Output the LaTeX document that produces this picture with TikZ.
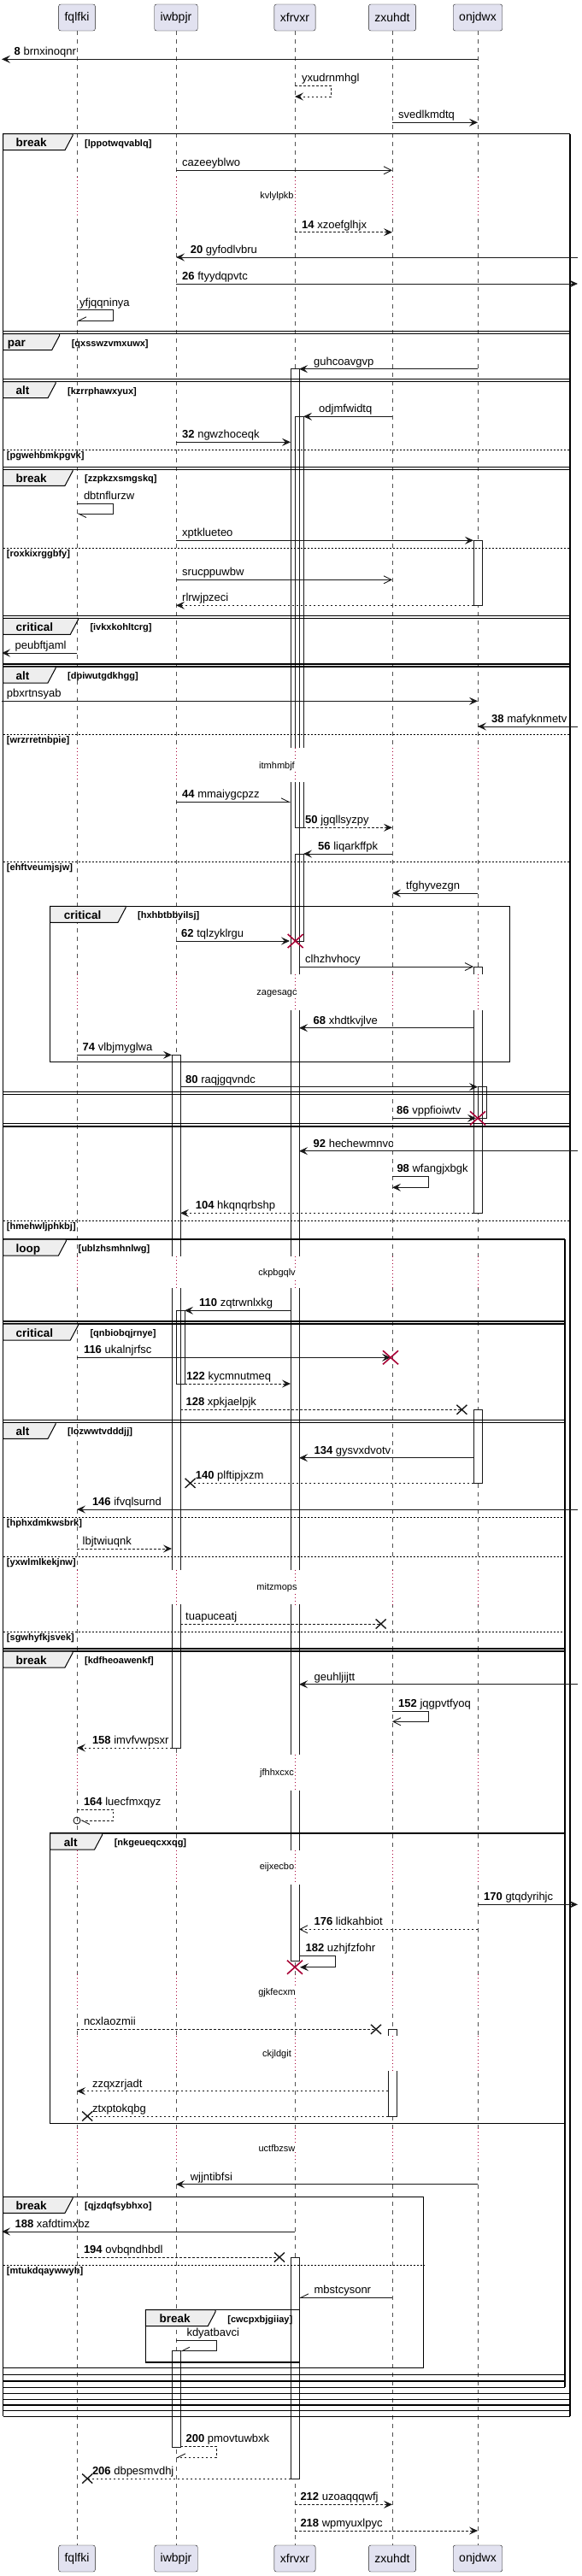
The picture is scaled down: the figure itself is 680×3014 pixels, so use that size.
\documentclass[tikz,border=0pt]{standalone}
\usepackage{fontspec}
\setmainfont{Liberation Sans}
\usetikzlibrary{arrows.meta}
\definecolor{seqline}{HTML}{181818}
\definecolor{seqpart}{HTML}{E2E2F0}
\definecolor{seqtabfill}{HTML}{EEEEEE}
\definecolor{seqred}{HTML}{A80036}
% lifeline positions
\def\xfq{90}\def\xiw{206}\def\xxf{345}\def\xzx{459}\def\xon{559}
\newcounter{sqn}
\tikzset{
  seqpart/.style={draw=seqline, fill=seqpart, rounded corners=2.5pt, minimum height=31pt, inner xsep=7pt, font=\fontsize{14}{16}\selectfont},
  seqlife/.style={draw=seqline!75, line width=0.5pt, dash pattern=on 5pt off 5pt},
  seqmsg/.style={draw=seqline, line width=0.9pt},
  seqret/.style={dash pattern=on 2.5pt off 2.5pt},
  seqfull/.style={-{Stealth[length=10pt,width=9pt,inset=4pt]}},
  seqopen/.style={-{Straight Barb[length=9pt,width=9pt]}},
  seqhalfl/.style={-{Straight Barb[length=9pt,width=9pt,left]}},
  seqhalfr/.style={-{Straight Barb[length=9pt,width=9pt,right]}},
  seqlbl/.style={anchor=base west, inner sep=0pt, font=\fontsize{13}{15}\selectfont},
  seqbar/.style={draw=seqline, line width=0.9pt},
  seqdelay/.style={draw=seqred, line width=0.9pt, dash pattern=on 1pt off 3pt},
  seqdelaytxt/.style={fill=white, inner sep=1pt, font=\fontsize{11}{13}\selectfont},
  seqgrp/.style={draw=black, line width=1.5pt},
  seqgrpend/.style={draw=black, line width=1.1pt},
  seqtabs/.style={draw=black, line width=1pt, fill=seqtabfill},
  seqkind/.style={anchor=base west, inner sep=0pt, font=\bfseries\fontsize{13.5}{15}\selectfont},
  seqguard/.style={anchor=base west, inner sep=0pt, font=\bfseries\fontsize{11}{13}\selectfont},
  seqelse/.style={draw=black, line width=0.9pt, dash pattern=on 2pt off 2pt},
  seqlost/.style={draw=seqline, line width=1.4pt},
  seqkill/.style={draw=seqred, line width=1.6pt},
}
\newcommand\sqmsg[6][]{\stepcounter{sqn}%
  \draw[seqmsg,#1] (#2,#4) -- (#3,#4);
  \node[seqlbl] (m\arabic{sqn}) at (#5,{#4-4.5}) {#6};}
\newcommand\sqself[8][]{\stepcounter{sqn}%
  \draw[seqmsg,#1] (#2,#3) -- (#4,#3) -- (#4,#5) -- (#6,#5);
  \node[seqlbl] (m\arabic{sqn}) at (#7,{#3-4.5}) {#8};}
\newcommand\lostx[2]{\draw[seqlost] ({#1-6},{#2-5.5}) -- ({#1+6},{#2+5.5}) ({#1-6},{#2+5.5}) -- ({#1+6},{#2-5.5});}
\newcommand\killx[2]{\draw[seqkill] ({#1-9},{#2-8}) -- ({#1+9},{#2+8}) ({#1-9},{#2+8}) -- ({#1+9},{#2-8});}
\newcommand\sqtab[6][15]{\stepcounter{sqn}%
  \draw[seqtabs] (#2,#3) -- (#4,#3) -- (#4,{#3+2}) -- ({#4-9},{#3+19}) -- (#2,{#3+19}) -- cycle;
  \node[seqkind] (k\arabic{sqn}) at ({#2+#1},{#3+15}) {#5};
  \node[seqguard] (g\arabic{sqn}) at ({#4+14},{#3+14.5}) {#6};}
\newcommand\sqelse[3]{\stepcounter{sqn}%
  \draw[seqelse] (3.5,#1) -- (#2,#1);
  \node[seqguard] (e\arabic{sqn}) at (7.8,{#1+10.5}) {#3};}
\def\barlist{340/350/431.7/2294, 345/355/487.3/968.3, 345/355/999/1101, 340/350/2641/2900,
  201/211/1234.3/2045, 206/216/1533.3/1619, 201/211/2750.7/2863.3,
  554/564/632.3/708.3, 554/564/1131/1419.3, 559/569/1271.7/1308.3, 554/564/1649.3/1735.3,
  454/464/2374.3/2476}
\begin{document}
\begin{tikzpicture}[x=1pt,y=-1pt]
\useasboundingbox (0,0) rectangle (680,3014);
% participants and lifelines
\foreach \n/\x/\t in {fq/\xfq/fqlfki,iw/\xiw/iwbpjr,xf/\xxf/xfrvxr,zx/\xzx/zxuhdt,on/\xon/onjdwx}{
  \node[seqpart] (\n top) at (\x,20.5) {\t};
  \node[seqpart] (\n bot) at (\x,2993.5) {\t};
  \draw[seqlife] (\n top) -- (\n bot);
}
% activations
\foreach \a/\b/\c/\d in \barlist \fill[white] (\a,\c) rectangle (\b,\d);
\foreach \a/\b/\c/\d in \barlist \draw[seqbar] (\a,\c) rectangle (\b,\d);
% delays
\foreach \ya/\yb/\yt/\t in {207/252/230/kvlylpkb, 875/915/896.7/itmhmbjf, 1140/1181.7/1162.3/zagesagc,
  1470/1507/1490/ckpbgqlv, 1836.7/1877.3/1857.7/mitzmops, 2053.3/2095/2075/jfhhxcxc,
  2165/2205/2185/eijxecbo, 2310/2350/2331.7/gjkfecxm, 2381.7/2423.3/2404/ckjldgit,
  2490/2530/2513.3/uctfbzsw}{
  \foreach \x in {\xfq,\xiw,\xxf,\xzx,\xon}{
    \fill[white] ({\x-13},\ya) rectangle ({\x+13},\yb);
    \draw[seqdelay] (\x,\ya) -- (\x,\yb);
  }
  \node[seqdelaytxt] (d\t) at (324,\yt) {\t};
}
% outer frames
\draw[seqgrp] (3.5,156.7) -- (3.5,2827.3) (667,156.7) -- (667,2827.3) (661,1450) -- (661,2793.3);
\foreach \y in {156.7,390.7,446.7,549.3,723.3,780,1280.7,1318,2800.7,2807.3,2814,2820.7,2827.3}
  \draw[seqgrp] (3.5,\y) -- (667,\y);
\foreach \y in {387.7,443.7,546.3,720.3,777,1277.2,1314.5}
  \draw[seqgrpend] (3.5,\y) -- (667,\y);
\foreach \y in {1450,1549,1664.3,1932,2778.3,2786,2793.3}
  \draw[seqgrp] (3.5,\y) -- (661,\y);
\foreach \y in {1546,1661.3,1929}
  \draw[seqgrpend] (3.5,\y) -- (661,\y);
\sqtab{3.5}{156.7}{85}{break}{[lppotwqvablq]}
\sqtab[5.2]{3.5}{390.7}{69.6}{par}{[qxsswzvmxuwx]}
\sqtab{3.5}{446.7}{65}{alt}{[kzrrphawxyux]}
\sqelse{526}{667}{[pgwehbmkpgvk]}
\sqtab{3.5}{549.3}{85}{break}{[zzpkzxsmgskq]}
\sqelse{641}{667}{[roxkixrggbfy]}
\sqtab{3.5}{723.3}{91.3}{critical}{[ivkxkohltcrg]}
\sqtab{3.5}{780}{65}{alt}{[dpiwutgdkhgg]}
\sqelse{859}{667}{[wrzrretnbpie]}
\sqelse{1008.3}{667}{[ehftveumjsjw]}
\sqelse{1428.3}{667}{[hmehwljphkbj]}
\sqtab{3.5}{1450}{77.4}{loop}{[ublzhsmhnlwg]}
\sqtab{3.5}{1549}{91.3}{critical}{[qnbiobqjrnye]}
\sqtab{3.5}{1664.3}{65}{alt}{[lozwwtvdddjj]}
\sqelse{1775}{661}{[hphxdmkwsbrk]}
\sqelse{1821}{661}{[yxwlmlkekjnw]}
\sqelse{1909.3}{661}{[sgwhyfkjsvek]}
\sqtab{3.5}{1932}{85}{break}{[kdfheoawenkf]}
% inner frames
\draw[seqgrp] (58.7,1060.3) rectangle (596.5,1242.3);
\sqtab[16]{58.7}{1060.3}{147}{critical}{[hxhbtbbyilsj]}
\draw[seqgrp] (58.7,2145) rectangle (661,2484.3);
\sqtab[16]{58.7}{2145}{119.6}{alt}{[nkgeueqcxxqg]}
\draw[seqgrp] (3.5,2570.3) rectangle (495.7,2770.7);
\sqtab{3.5}{2570.3}{85}{break}{[qjzdqfsybhxo]}
\sqelse{2650}{495.7}{[mtukdqaywwyh]}
\draw[seqgrp] (170.4,2702.7) rectangle (350.4,2764);
\sqtab[16]{170.4}{2702.7}{252.2}{break}{[cwcpxbjgiiay]}
% messages
\sqmsg[seqfull]{\xon}{2}{69.3}{16.5}{\textbf{8} brnxinoqnr}
\sqself[seqret,seqfull]{\xxf}{100}{387}{113}{\xxf}{353}{yxudrnmhgl}
\sqmsg[seqfull]{\xzx}{\xon}{143.3}{466}{svedlkmdtq}
\sqmsg[seqopen]{\xiw}{\xzx}{199.3}{213}{cazeeyblwo}
\sqmsg[seqret,seqfull]{\xxf}{\xzx}{271.7}{353}{\textbf{14} xzoefglhjx}
\sqmsg[seqfull]{676}{\xiw}{301}{222.6}{\textbf{20} gyfodlvbru}
\sqmsg[seqfull]{\xiw}{676}{332}{213}{\textbf{26} ftyydqpvtc}
\sqself[seqhalfr]{\xfq}{362.7}{132.6}{375.3}{\xfq}{93}{yfjqqninya}
\sqmsg[seqfull]{\xon}{350}{431.7}{367}{guhcoavgvp}
\sqmsg[seqfull]{\xzx}{355}{487.3}{373}{odjmfwidtq}
\sqmsg[seqfull]{\xiw}{340}{517.3}{213}{\textbf{32} ngwzhoceqk}
\sqself[seqhalfl]{\xfq}{589}{132.6}{601}{\xfq}{97.8}{dbtnflurzw}
\sqmsg[seqfull]{\xiw}{554}{632.3}{213}{xptklueteo}
\sqmsg[seqopen]{\xiw}{\xzx}{678.3}{213}{srucppuwbw}
\sqmsg[seqret,seqfull]{554}{\xiw}{708.3}{213}{rlrwjpzeci}
\sqmsg[seqfull]{\xfq}{2}{764}{17.4}{peubftjaml}
\sqmsg[seqfull]{2}{\xon}{820.3}{7.8}{pbxrtnsyab}
\sqmsg[seqfull]{676}{\xon}{850}{575}{\textbf{38} mafyknmetv}
\sqmsg[seqhalfl]{\xiw}{340}{938.3}{213}{\textbf{44} mmaiygcpzz}
\sqmsg[seqret,seqfull]{355}{\xzx}{968.3}{357}{\textbf{50} jgqllsyzpy}
\sqmsg[seqfull]{\xzx}{355}{999}{372}{\textbf{56} liqarkffpk}
\sqmsg[seqfull]{\xon}{\xzx}{1045}{475}{tfghyvezgn}
\sqmsg[seqfull]{\xiw}{339}{1101}{212}{\textbf{62} tqlzyklrgu}
\sqmsg[seqopen]{350}{554}{1131}{357}{clhzhvhocy}
\sqmsg[seqfull]{554}{350}{1202.7}{366.5}{\textbf{68} xhdtkvjlve}
\sqmsg[seqfull]{\xfq}{201}{1234.3}{96.5}{\textbf{74} vlbjmyglwa}
\sqmsg[seqfull]{211}{559}{1271.7}{217}{\textbf{80} raqjgqvndc}
\sqmsg[seqfull]{\xzx}{557}{1308.3}{464}{\textbf{86} vppfioiwtv}
\sqmsg[seqfull]{676}{350}{1346.7}{366.5}{\textbf{92} hechewmnvc}
\sqself[seqfull]{\xzx}{1376}{501}{1389.3}{\xzx}{464.3}{\textbf{98} wfangjxbgk}
\sqmsg[seqret,seqfull]{554}{211}{1419.3}{228.7}{\textbf{104} hkqnqrbshp}
\sqmsg[seqfull]{340}{216}{1533.3}{233}{\textbf{110} zqtrwnlxkg}
\sqmsg[seqfull]{\xfq}{457}{1588.3}{97.8}{\textbf{116} ukalnjrfsc}
\sqmsg[seqret,seqfull]{216}{340}{1619}{218}{\textbf{122} kycmnutmeq}
\sqmsg[seqret]{211}{540.4}{1649.3}{217.4}{\textbf{128} xpkjaelpjk}
\lostx{540.4}{1649.3}
\sqmsg[seqfull]{554}{350}{1705.7}{367.4}{\textbf{134} gysvxdvotv}
\sqmsg[seqret]{554}{222.6}{1735.3}{228.7}{\textbf{140} plftipjxzm}
\lostx{222.6}{1735.3}
\sqmsg[seqfull]{676}{\xfq}{1766}{107.8}{\textbf{146} ifvqlsurnd}
\sqmsg[seqret,seqfull]{\xfq}{201}{1812}{96.5}{lbjtwiuqnk}
\sqmsg[seqret]{211}{445.7}{1900}{217}{tuapuceatj}
\lostx{445.7}{1900}
\sqmsg[seqfull]{676}{350}{1970.7}{367.4}{geuhljijtt}
\sqself[seqopen]{\xzx}{2002.3}{501}{2014.3}{\xzx}{466}{\textbf{152} jqgpvtfyoq}
\sqmsg[seqret,seqfull]{201}{\xfq}{2045}{107.8}{\textbf{158} imvfvwpsxr}
\sqself[seqret,seqhalfl]{\xfq}{2117.3}{132.6}{2130}{94}{97.8}{\textbf{164} luecfmxqyz}
\draw[seqmsg] (\xfq,2130) circle (4);
\sqmsg[seqfull]{\xon}{676}{2228.3}{566}{\textbf{170} gtqdyrihjc}
\sqmsg[seqret,seqopen]{\xon}{350}{2257.3}{367.4}{\textbf{176} lidkahbiot}
\sqself[seqfull]{350}{2288.3}{392.6}{2301.7}{351}{357.4}{\textbf{182} uzhjfzfohr}
\sqmsg[seqret]{\xfq}{440}{2374.3}{97.8}{ncxlaozmii}
\lostx{440}{2374.3}
\sqmsg[seqret,seqfull]{454}{\xfq}{2446.7}{107.8}{zzqxzrjadt}
\sqmsg[seqret]{454}{102.2}{2476}{107.8}{ztxptokqbg}
\lostx{102.2}{2476}
\sqmsg[seqfull]{\xon}{\xiw}{2555.7}{222.6}{wjjntibfsi}
\sqmsg[seqfull]{\xxf}{2}{2611}{17.4}{\textbf{188} xafdtimxbz}
\sqmsg[seqret]{\xfq}{327}{2641}{97.8}{\textbf{194} ovbqndhbdl}
\lostx{327}{2641}
\sqmsg[seqhalfr]{\xzx}{350}{2688.3}{367.4}{mbstcysonr}
\sqself[seqhalfr]{\xiw}{2738.3}{253}{2750.7}{211}{218.3}{kdyatbavci}
\sqself[seqret,seqhalfr]{211}{2862.3}{253}{2875.3}{\xiw}{217.4}{\textbf{200} pmovtuwbxk}
\sqmsg[seqret]{340}{102.2}{2900}{107.8}{\textbf{206} dbpesmvdhj}
\lostx{102.2}{2900}
\sqmsg[seqret,seqfull]{\xxf}{\xzx}{2930.3}{351.3}{\textbf{212} uzoaqqqwfj}
\sqmsg[seqret,seqfull]{\xxf}{\xon}{2961}{351.3}{\textbf{218} wpmyuxlpyc}
% destroyed
\killx{345.7}{1101}
\killx{559}{1308.3}
\killx{457}{1588.3}
\killx{345}{2301.7}
\end{tikzpicture}
\end{document}
